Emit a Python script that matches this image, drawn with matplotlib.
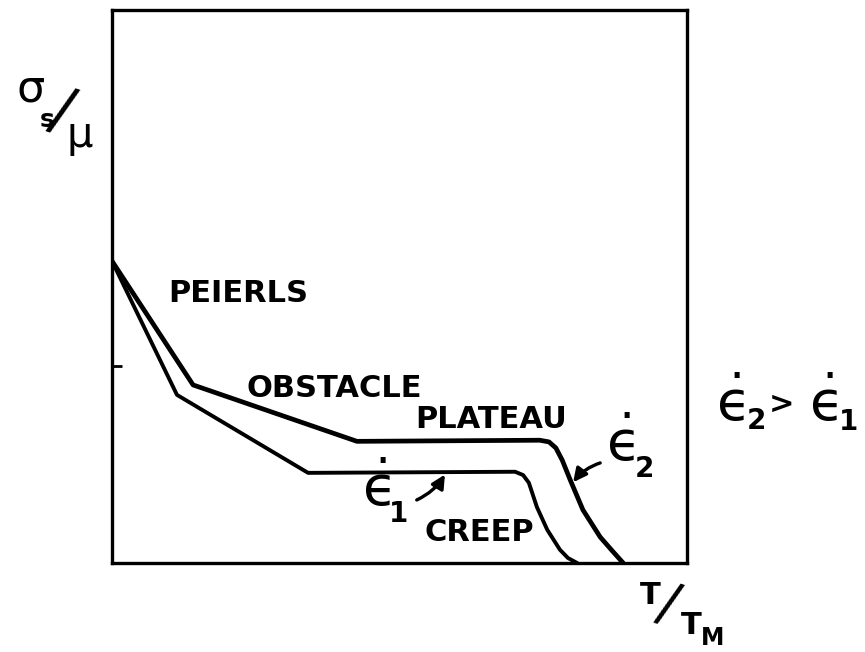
import matplotlib
matplotlib.use("Agg")
import matplotlib.pyplot as plt

W, H = 865, 652

# ---- data (normalised T/T_M and sigma_s/mu) ----
rate2_x = [0.000, 0.141, 0.426, 0.744, 0.760, 0.772, 0.783, 0.797, 0.819, 0.849, 0.870, 0.889]
rate2_y = [0.546, 0.322, 0.220, 0.222, 0.219, 0.208, 0.186, 0.150, 0.096, 0.047, 0.022, 0.000]

rate1_x = [0.000, 0.113, 0.341, 0.701, 0.715, 0.725, 0.732, 0.739, 0.757, 0.779, 0.793, 0.809]
rate1_y = [0.546, 0.304, 0.163, 0.165, 0.159, 0.145, 0.123, 0.101, 0.060, 0.024, 0.009, 0.000]

regime_labels = ["PEIERLS", "OBSTACLE", "PLATEAU", "CREEP"]
regime_x = [0.219, 0.386, 0.659, 0.638]
regime_y = [0.488, 0.316, 0.260, 0.056]

ytick_pos = [0.357]

EPS = r"$\dot{\mathrm{ϵ}}$"


def fx(px):
    return px / W


def fy(py):
    return 1 - py / H


fig = plt.figure(figsize=(W / 100, H / 100), dpi=100)
ax = fig.add_axes([112 / W, 1 - 563 / H, (687 - 112) / W, (563 - 10) / H])
ax.set_xlim(0, 1)
ax.set_ylim(0, 1)
for s in ax.spines.values():
    s.set_linewidth(2.4)
ax.set_xticks([])
ax.set_yticks(ytick_pos)
ax.set_yticklabels([])
ax.tick_params(axis="y", direction="in", length=7, width=2)

ax.plot(rate2_x, rate2_y, color="black", lw=3.4, solid_joinstyle="round", solid_capstyle="round")
ax.plot(rate1_x, rate1_y, color="black", lw=2.8, solid_joinstyle="round", solid_capstyle="round")

for lab, x, y in zip(regime_labels, regime_x, regime_y):
    ax.text(x, y, lab, ha="center", va="center", fontsize=22, fontweight="bold",
            family="DejaVu Sans")


def eps_label(bx, bbase, digit, dx, dbase):
    fig.text(fx(bx), fy(bbase), EPS, ha="center", va="baseline", fontsize=40)
    fig.text(fx(dx), fy(dbase), digit, ha="center", va="baseline", fontsize=20,
             fontweight="bold")


# rate labels and arrows
eps_label(376, 506, "1", 399, 522)
eps_label(620, 461, "2", 644, 477)
arrow = dict(arrowstyle="-|>", lw=2.4, color="black", mutation_scale=20,
             shrinkA=0, shrinkB=0, connectionstyle="arc3,rad=0.15")
ax.annotate("", xy=(0.579, 0.160), xytext=(0.530, 0.114), arrowprops=arrow)
ax.annotate("", xy=(0.802, 0.146), xytext=(0.849, 0.181), arrowprops=arrow)

eps_label(730, 421, "2", 756, 429)
fig.text(fx(782), fy(413), ">", ha="center", va="baseline", fontsize=22, fontweight="bold")
eps_label(823, 421, "1", 848, 430)

# y axis label  sigma_s / mu
fig.text(31 / W, 1 - 89 / H, "σ", ha="center", va="center", fontsize=32)
fig.text(47 / W, 1 - 120 / H, "s", ha="center", va="center", fontsize=18, fontweight="bold")
fig.text(62 / W, 1 - 113 / H, "/", ha="center", va="center", fontsize=44, rotation=-18)
fig.text(80 / W, 1 - 135 / H, "μ", ha="center", va="center", fontsize=30)

# x axis label  T / T_M
fig.text(650 / W, 1 - 595 / H, "T", ha="center", va="center", fontsize=22, fontweight="bold")
fig.text(668 / W, 1 - 605 / H, "/", ha="center", va="center", fontsize=40, rotation=-18)
fig.text(691 / W, 1 - 626 / H, "T", ha="center", va="center", fontsize=22, fontweight="bold")
fig.text(713 / W, 1 - 638 / H, "M", ha="center", va="center", fontsize=17, fontweight="bold")

fig.savefig("out.png", dpi=100)
